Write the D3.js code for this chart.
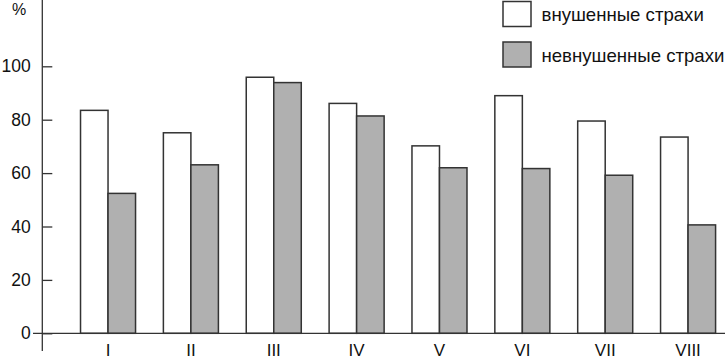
<!DOCTYPE html>
<html>
<head>
<meta charset="utf-8">
<script src="https://cdn.jsdelivr.net/npm/d3@7"></script>
<style>
  body { margin: 0; background: #fff; }
  svg { display: block; font-family: 'Liberation Sans', Arial, sans-serif; }
</style>
</head>
<body>
<div id="chart"></div>
<script>
// data
const categories = ["I", "II", "III", "IV", "V", "VI", "VII", "VIII"];
const suggested = [83.5, 75.1, 95.9, 86.1, 70.2, 89.0, 79.5, 73.5];
const unsuggested = [52.4, 63.1, 93.9, 81.4, 62.0, 61.7, 59.2, 40.6];
const seriesNames = ["внушенные страхи", "невнушенные страхи"];
const yTicks = [0, 20, 40, 60, 80, 100];

const width = 728, height = 359;
const fills = ["#ffffff", "#b0b0b0"];
const ink = "#333";
const font = "'Liberation Sans', Arial, sans-serif";

const svg = d3.select('#chart').append("svg")
    .attr("width", width)
    .attr("height", height);

const x = d3.scaleBand()
    .domain(categories)
    .range([66.6, 729.5])
    .paddingInner(0.336)
    .paddingOuter(0.168);
const xs = d3.scaleBand()
    .domain([0, 1])
    .range([0, x.bandwidth()]);
const y = d3.scaleLinear()
    .domain([0, 100])
    .range([333.3, 66.3]);

const rows = categories.map((c, i) => ({cat: c, vals: [suggested[i], unsuggested[i]]}));

// bars
const g = svg.append("g").attr("class", "bars")
    .selectAll("g")
    .data(rows)
    .enter().append("g")
    .attr("transform", d => "translate(" + x(d.cat) + ",0)");
g.selectAll("rect")
    .data(d => d.vals.map((v, k) => ({k: k, v: v})))
    .enter().append("rect")
    .attr("x", d => xs(d.k))
    .attr("width", xs.bandwidth())
    .attr("y", d => y(d.v))
    .attr("height", d => y(0) - y(d.v))
    .attr("fill", d => fills[d.k])
    .attr("stroke", ink)
    .attr("stroke-width", 1.5);

// y axis
const yAxis = svg.append("g")
    .attr("transform", "translate(42.3,0)")
    .call(d3.axisLeft(y).tickValues(yTicks).tickSize(9).tickPadding(2.5));
yAxis.attr("font-family", font);
yAxis.select(".domain").remove();
yAxis.selectAll(".tick line").attr("x2", 10).attr("stroke", ink).attr("stroke-width", 1.3);
yAxis.selectAll(".tick text")
    .attr("font-size", 17.5)
    .attr("fill", "#111");
svg.append("line")
    .attr("x1", 42.3).attr("x2", 42.3)
    .attr("y1", 0).attr("y2", 351)
    .attr("stroke", ink).attr("stroke-width", 1.3);

// x axis
const xAxis = svg.append("g")
    .attr("transform", "translate(0," + y(0) + ")")
    .call(d3.axisBottom(x).tickSize(0).tickPadding(11));
xAxis.attr("font-family", font);
xAxis.select(".domain")
    .attr("d", "M33,0H725")
    .attr("stroke", ink).attr("stroke-width", 1.3);
xAxis.selectAll(".tick text")
    .attr("font-size", 17)
    .attr("fill", "#111");

svg.append("text")
    .attr("x", 19).attr("y", 15)
    .attr("text-anchor", "middle")
    .attr("font-size", 16)
    .attr("fill", "#111")
    .text("%");

// legend
const legend = svg.append("g").attr("class", "legend")
    .selectAll("g")
    .data(seriesNames)
    .enter().append("g")
    .attr("transform", (d, i) => "translate(503," + (1.5 + i * 40.5) + ")");
legend.append("rect")
    .attr("width", 28).attr("height", 25)
    .attr("fill", (d, i) => fills[i])
    .attr("stroke", ink).attr("stroke-width", 1.5);
legend.append("text")
    .attr("x", 38.5).attr("y", 19.5)
    .attr("font-size", 18.6)
    .attr("fill", "#111")
    .text(d => d);
</script>
</body>
</html>
